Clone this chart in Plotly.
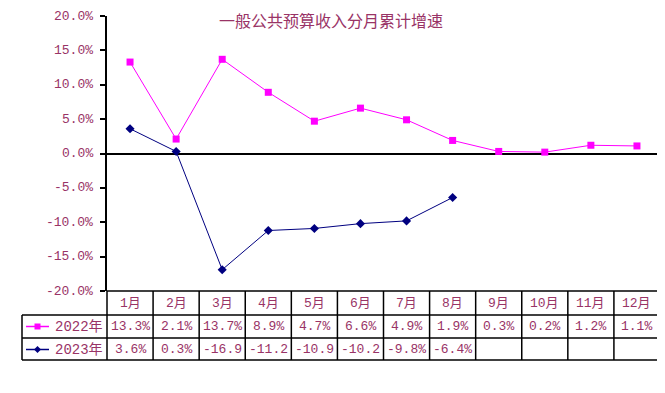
import plotly.graph_objects as go

months = ["1月", "2月", "3月", "4月", "5月", "6月", "7月", "8月", "9月", "10月", "11月", "12月"]
series_names = ["2022年", "2023年"]
values_2022 = [13.3, 2.1, 13.7, 8.9, 4.7, 6.6, 4.9, 1.9, 0.3, 0.2, 1.2, 1.1]
values_2023 = [3.6, 0.3, -16.9, -11.2, -10.9, -10.2, -9.8, -6.4]
y_ticks = [20, 15, 10, 5, 0, -5, -10, -15, -20]
title_text = "一般公共预算收入分月累计增速"

# page body has an 8px margin; work in screen pixels and shift
OFF = 8
W, H = 665 - OFF, 393 - 2 * OFF
L, R, T, B = 107, 660, 16, 291
TXT = "#993366"
C22 = "#FF00FF"
C23 = "#000080"
FONT = "Liberation Mono, Noto Sans CJK SC, monospace"

def px(x):
    return (x - L) / (R - L)

def py(y):
    return (B - y) / (B - T)

xs = list(range(1, 13))
n = len(months)

fig = go.Figure()
fig.add_trace(go.Scatter(x=xs[:len(values_2022)], y=values_2022, mode="lines+markers",
                         line=dict(color=C22, width=1),
                         marker=dict(symbol="square", size=7, color=C22),
                         name=series_names[0]))
fig.add_trace(go.Scatter(x=xs[:len(values_2023)], y=values_2023, mode="lines+markers",
                         line=dict(color=C23, width=1),
                         marker=dict(symbol="diamond", size=7, color=C23),
                         name=series_names[1]))

shapes = []
line = dict(color="black", width=1.5)
shapes.append(dict(type="line", xref="paper", yref="paper", x0=0, x1=1, y0=0, y1=0, line=line))
for yy in (315, 338, 360):
    shapes.append(dict(type="line", xref="paper", yref="paper", x0=px(22), x1=1, y0=py(yy), y1=py(yy), line=line))
shapes.append(dict(type="line", xref="paper", yref="paper", x0=px(22), x1=px(22), y0=py(315), y1=py(360), line=line))
for i in range(n + 1):
    shapes.append(dict(type="line", xref="paper", yref="paper", x0=i / n, x1=i / n, y0=0, y1=py(360), line=line))
for yy, col, kind in ((326.5, C22, "sq"), (349.5, C23, "dia")):
    shapes.append(dict(type="line", xref="paper", yref="paper", x0=px(26), x1=px(49), y0=py(yy), y1=py(yy),
                       line=dict(color=col, width=1.5)))
    if kind == "sq":
        shapes.append(dict(type="rect", xref="paper", yref="paper", x0=px(34.5), x1=px(40.5),
                           y0=py(yy + 3), y1=py(yy - 3), fillcolor=col, line=dict(width=0)))
    else:
        cx = 37.5
        path = f"M {px(cx)} {py(yy-3.5)} L {px(cx+3.5)} {py(yy)} L {px(cx)} {py(yy+3.5)} L {px(cx-3.5)} {py(yy)} Z"
        shapes.append(dict(type="path", xref="paper", yref="paper", path=path, fillcolor=col, line=dict(width=0)))

ann = []
ann.append(dict(text=title_text, xref="paper", yref="paper", x=px(331), y=py(20), showarrow=False,
                font=dict(size=16, color=TXT, family="Noto Sans CJK SC"), xanchor="center", yanchor="middle"))
for t in y_ticks:
    ann.append(dict(text=f"{t:.1f}%", xref="paper", yref="y", x=px(95), y=t, showarrow=False,
                    font=dict(size=13, color=TXT, family=FONT), xanchor="right", yanchor="middle"))
for i, m in enumerate(months):
    ann.append(dict(text=m, xref="x", yref="paper", x=xs[i], y=py(303), showarrow=False,
                    font=dict(size=13, color=TXT, family=FONT), xanchor="center", yanchor="middle"))
for vals, yy in ((values_2022, 326.5), (values_2023, 349.5)):
    for i, v in enumerate(vals):
        s = f"{v:.1f}%"[:5]
        ann.append(dict(text=s, xref="x", yref="paper", x=xs[i], y=py(yy), showarrow=False,
                        font=dict(size=13, color=TXT, family=FONT), xanchor="center", yanchor="middle"))
for name, yy in zip(series_names, (326.5, 349.5)):
    ann.append(dict(text=name, xref="paper", yref="paper", x=px(53), y=py(yy), showarrow=False,
                    font=dict(size=14, color=TXT, family=FONT), xanchor="left", yanchor="middle"))

fig.update_layout(
    width=W, height=H,
    margin=dict(l=L - OFF, r=665 - R, t=T - OFF, b=H - (B - OFF), pad=0),
    paper_bgcolor="white", plot_bgcolor="white",
    showlegend=False,
    shapes=shapes, annotations=ann,
    xaxis=dict(range=[0.5, 12.5], showticklabels=False, showgrid=False, zeroline=False,
               showline=False, ticks=""),
    yaxis=dict(range=[-20, 20], tickvals=y_ticks, showticklabels=False,
               showgrid=False, zeroline=True, zerolinecolor="black", zerolinewidth=1.5,
               showline=True, linecolor="black", linewidth=1.5, ticks="outside", ticklen=5,
               tickcolor="black", tickwidth=1.5),
)

fig.write_html("out.html")
